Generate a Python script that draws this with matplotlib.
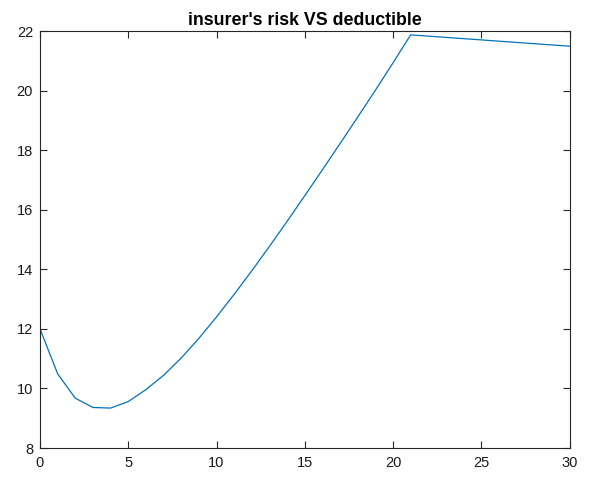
import matplotlib
matplotlib.use("Agg")
import matplotlib.pyplot as plt

# франшиза (deductible) и риск страховщика
deductible = [0, 1, 2, 3, 4, 5, 6, 7, 8, 9, 10, 11, 12, 13, 14, 15, 16, 17, 18, 19, 20, 21, 30]
risk = [12.0, 10.49, 9.67, 9.36, 9.34, 9.56, 9.96, 10.44, 11.02, 11.68, 12.4, 13.16,
        13.95, 14.77, 15.61, 16.47, 17.34, 18.22, 19.11, 20.01, 20.93, 21.87, 21.49]

x_ticks = [0, 5, 10, 15, 20, 25, 30]
y_ticks = [8, 10, 12, 14, 16, 18, 20, 22]

plt.rcParams["font.family"] = ["Liberation Sans", "DejaVu Sans"]

fig = plt.figure(figsize=(5.94, 4.78), dpi=100)
ax = fig.add_axes([40 / 594, 30 / 478, 529.5 / 594, 417 / 478])

ax.plot(deductible, risk, color="#0072BD", linewidth=0.9)

ax.set_xlim(0, 30)
ax.set_ylim(8, 22)
ax.set_xticks(x_ticks)
ax.set_yticks(y_ticks)
ax.tick_params(direction="in", length=5, width=0.8, top=True, right=True,
               labelsize=10.5, colors="#262626", labelcolor="#1a1a1a")
ax.tick_params(axis="x", pad=6)
ax.tick_params(axis="y", pad=5)
for sp in ax.spines.values():
    sp.set_color("#262626")
    sp.set_linewidth(0.8)

ax.set_title("insurer's risk VS deductible", fontsize=12.8, fontweight="bold", pad=4)

fig.savefig("out.png", dpi=100)
